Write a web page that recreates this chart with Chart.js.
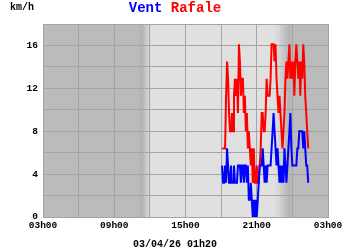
<!DOCTYPE html>
<html>
<head>
<meta charset="utf-8">
<script src="https://cdn.jsdelivr.net/npm/chart.js@4/dist/chart.umd.min.js"></script>
<style>
  html, body { margin: 0; padding: 0; background: #ffffff; }
  canvas { display: block; }
</style>
</head>
<body>
<canvas id="c" width="350" height="250"></canvas>
<script>
// ---- data (km/h), one sample every 5 minutes ----
const times = [
  '18h05','18h10','18h15','18h20','18h25','18h30','18h35','18h40','18h45','18h50','18h55',
  '19h00','19h05','19h10','19h15','19h20','19h25','19h30','19h35','19h40','19h45','19h50','19h55',
  '20h00','20h05','20h10','20h15','20h20','20h25','20h30','20h35','20h40','20h45','20h50','20h55',
  '21h00','21h05','21h10','21h15','21h20','21h25','21h30','21h35','21h40','21h45','21h50','21h55',
  '22h00','22h05','22h10','22h15','22h20','22h25','22h30','22h35','22h40','22h45','22h50','22h55',
  '23h00','23h05','23h10','23h15','23h20','23h25','23h30','23h35','23h40','23h45','23h50','23h55',
  '00h00','00h05','00h10','00h15','00h20','00h25','00h30','00h35','00h40','00h45','00h50','00h55',
  '01h00','01h05','01h10','01h15','01h20'
];
const vent = [
  4.8,3.2,3.2,4.8,3.2,6.4,4.8,3.2,
  3.2,4.8,3.2,3.2,4.8,3.2,3.2,3.2,
  4.8,4.8,4.8,3.2,4.8,4.8,3.2,4.8,
  4.8,3.2,4.8,1.6,1.6,3.2,1.6,0,
  1.6,0,1.6,0,1.6,3.2,4.8,4.8,
  4.8,6.4,4.8,3.2,4.8,3.2,4.8,4.8,
  4.8,4.8,6.4,8.0,9.7,8.0,6.4,4.8,
  6.4,4.8,3.2,4.8,3.2,4.8,3.2,6.4,
  4.8,3.2,4.8,6.4,8.0,9.7,6.4,4.8,
  4.8,4.8,4.8,4.8,6.4,6.4,8.0,8.0,
  8.0,8.0,6.4,8.0,6.4,4.8,4.8,3.2
];
const rafale = [
  6.4,6.4,6.4,6.4,11.3,14.5,12.9,9.7,
  8.0,8.0,9.7,8.0,11.3,12.9,11.3,12.9,
  9.7,16.1,14.5,11.3,12.9,12.9,9.7,11.3,
  8.0,9.7,6.4,8.0,6.4,4.8,6.4,3.2,
  6.4,3.2,3.2,4.8,3.2,3.2,4.8,6.4,
  9.7,9.7,8.0,8.0,9.7,12.9,11.3,11.3,
  11.3,12.9,16.1,16.1,16.1,14.5,16.1,12.9,
  11.3,9.7,11.3,9.7,8.0,6.4,8.0,9.7,
  12.9,14.5,12.9,14.5,16.1,12.9,14.5,12.9,
  14.5,11.3,14.5,16.1,14.5,12.9,14.5,11.3,
  14.5,12.9,16.1,14.5,11.3,9.7,8.0,6.4
];
const xTickLabels = ['03h00','09h00','15h00','21h00','03h00'];
const yTickLabels = ['0','4','8','12','16'];
const titleParts = [['Vent ', '#0000ff'], ['Rafale', '#ff0000']];
const unitLabel = 'km/h';
const stampLabel = '03/04/26 01h20';
// day / night shading (hours on the axis, 3 = 03h00 day 1, 27 = 03h00 day 2)
const dawn = [10.8, 12];
const dusk = [22.6, 24];

// hours on a continuous axis starting at 03h00
function toHours(t) {
  const h = parseInt(t.slice(0, 2), 10), m = parseInt(t.slice(3), 10);
  let v = h + m / 60;
  if (v < 3) v += 24;
  return v;
}

const FONT = "'Liberation Mono', 'Courier New', monospace";
const GRID = '#a4a4a4';

const decor = {
  id: 'decor',
  beforeDraw(chart) {
    const { ctx, chartArea: a, scales: { x } } = chart;
    ctx.save();
    ctx.fillStyle = '#bbbbbb';
    ctx.fillRect(a.left, a.top, a.width, a.height);
    const d0 = x.getPixelForValue(dawn[0]), d1 = x.getPixelForValue(dawn[1]);
    const s0 = x.getPixelForValue(dusk[0]), s1 = x.getPixelForValue(dusk[1]);
    // light day
    ctx.fillStyle = '#e0e0e0';
    ctx.fillRect(d1, a.top, s0 - d1, a.height);
    // dawn gradient
    let g = ctx.createLinearGradient(d0, 0, d1, 0);
    g.addColorStop(0, '#bbbbbb');
    g.addColorStop(0.45, '#b2b2b2');
    g.addColorStop(0.7, '#c6c6c6');
    g.addColorStop(1, '#dedede');
    ctx.fillStyle = g;
    ctx.fillRect(d0, a.top, d1 - d0, a.height);
    // dusk gradient
    g = ctx.createLinearGradient(s0, 0, s1, 0);
    g.addColorStop(0, '#e0e0e0');
    g.addColorStop(0.8, '#b4b4b4');
    g.addColorStop(1, '#bbbbbb');
    ctx.fillStyle = g;
    ctx.fillRect(s0, a.top, s1 - s0, a.height);
    ctx.restore();
  },
  afterDraw(chart) {
    const { ctx } = chart;
    const W = chart.width;
    ctx.save();
    ctx.textBaseline = 'alphabetic';
    // unit
    ctx.font = 'bold 10px ' + FONT;
    ctx.fillStyle = '#000';
    ctx.textAlign = 'left';
    ctx.fillText(unitLabel, 10, 10);
    // two-colour title
    ctx.font = 'bold 14px ' + FONT;
    const total = titleParts.reduce((s, p) => s + ctx.measureText(p[0]).width, 0);
    let tx = W / 2 - total / 2;
    titleParts.forEach(([t, c]) => {
      ctx.fillStyle = c;
      ctx.fillText(t, tx, 12);
      tx += ctx.measureText(t).width;
    });
    // time stamp
    ctx.font = 'bold 10px ' + FONT;
    ctx.fillStyle = '#000';
    ctx.textAlign = 'center';
    ctx.fillText(stampLabel, W / 2, 247);
    ctx.restore();
  }
};

const tickFont = { family: FONT, size: 9.5, weight: 'bold' };

new Chart(document.getElementById('c'), {
  type: 'line',
  data: {
    datasets: [
      {
        label: 'Vent',
        data: times.map((t, i) => ({ x: toHours(t), y: vent[i] })),
        borderColor: '#0000ff',
        borderWidth: 2,
        pointRadius: 0,
        tension: 0,
        fill: false
      },
      {
        label: 'Rafale',
        data: times.map((t, i) => ({ x: toHours(t), y: rafale[i] })),
        borderColor: '#ff0000',
        borderWidth: 2,
        pointRadius: 0,
        tension: 0,
        fill: false
      }
    ]
  },
  options: {
    responsive: false,
    animation: false,
    devicePixelRatio: 1,
    layout: { padding: { top: 24, right: 22, left: 0, bottom: 0 } },
    plugins: { legend: { display: false }, tooltip: { enabled: false }, title: { display: false } },
    scales: {
      x: {
        type: 'linear',
        min: 3,
        max: 27,
        ticks: {
          stepSize: 3,
          autoSkip: false,
          maxRotation: 0,
          padding: 3,
          color: '#000',
          font: tickFont,
          callback: (v, i) => (i % 2 === 0 ? xTickLabels[i / 2] : '')
        },
        grid: { color: GRID, drawTicks: false },
        border: { color: GRID },
        afterFit: s => { s.height = 33; }
      },
      y: {
        min: 0,
        max: 18,
        ticks: {
          stepSize: 2,
          padding: 5,
          color: '#000',
          font: tickFont,
          callback: (v) => (v % 4 === 0 ? yTickLabels[v / 4] : '')
        },
        grid: { color: GRID, drawTicks: false },
        border: { color: GRID },
        afterFit: s => { s.width = 43; }
      }
    }
  },
  plugins: [decor]
});
</script>
</body>
</html>
